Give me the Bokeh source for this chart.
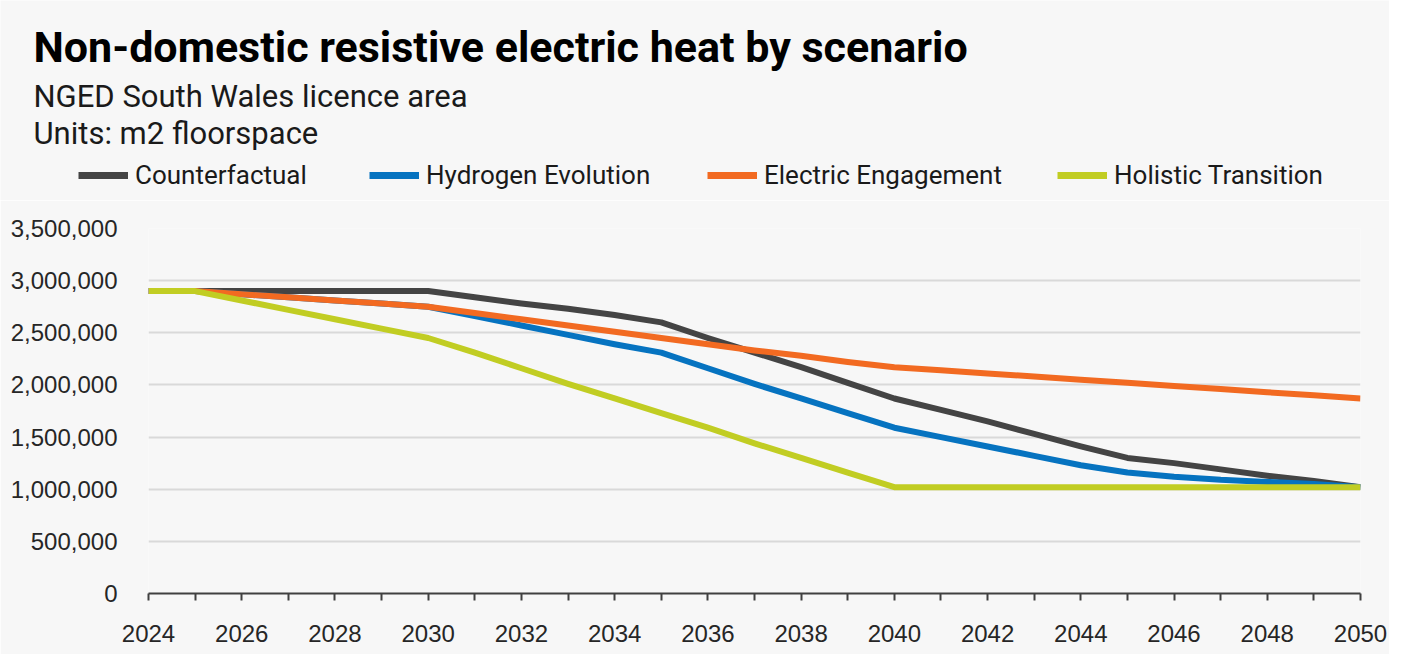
from bokeh.plotting import figure
from bokeh.models import Range1d, FixedTicker, NumeralTickFormatter, Legend, LegendItem
from bokeh.core.properties import value
from bokeh.embed import file_html
from bokeh.resources import INLINE

# ---- data ----
years = list(range(2024, 2051))
counterfactual = [2900000, 2900000, 2900000, 2900000, 2900000, 2900000, 2900000,
                  2840000, 2780000, 2730000, 2670000, 2600000,
                  2450000, 2310000, 2170000, 2020000, 1870000,
                  1760000, 1650000, 1530000, 1410000, 1300000,
                  1250000, 1190000, 1130000, 1080000, 1020000]
hydrogen = [2900000, 2900000, 2870000, 2840000, 2810000, 2780000, 2750000,
            2660000, 2570000, 2480000, 2390000, 2310000,
            2160000, 2010000, 1870000, 1730000, 1590000,
            1500000, 1410000, 1320000, 1230000, 1160000,
            1120000, 1090000, 1070000, 1050000, 1020000]
electric = [2900000, 2900000, 2870000, 2840000, 2810000, 2780000, 2750000,
            2690000, 2630000, 2570000, 2510000, 2450000,
            2390000, 2330000, 2280000, 2220000, 2170000,
            2140000, 2110000, 2080000, 2050000, 2020000,
            1990000, 1960000, 1930000, 1900000, 1870000]
holistic = [2900000, 2900000, 2810000, 2720000, 2630000, 2540000, 2450000,
            2310000, 2160000, 2010000, 1870000, 1730000,
            1590000, 1440000, 1300000, 1160000, 1020000,
            1020000, 1020000, 1020000, 1020000, 1020000,
            1020000, 1020000, 1020000, 1020000, 1020000]
series = [counterfactual, hydrogen, electric, holistic]
series_names = ["Counterfactual", "Hydrogen Evolution", "Electric Engagement", "Holistic Transition"]
series_colors = ["#444444", "#0673c0", "#f26a21", "#c1cd23"]
y_ticks = [0, 500000, 1000000, 1500000, 2000000, 2500000, 3000000, 3500000]
x_label_years = list(range(2024, 2051, 2))
x_minor_years = list(range(2025, 2050, 2))

title_text = "Non-domestic resistive electric heat by scenario"
subtitle1 = "NGED South Wales licence area"
subtitle2 = "Units: m2 floorspace"

BG = "#f7f7f7"
W = 1389
HEAD_H = 200
MAIN_H = 454

# ---- header: titles + legend (pixel coordinates) ----
h = figure(width=W, height=HEAD_H, output_backend="svg", toolbar_location=None,
           x_range=Range1d(0, W), y_range=Range1d(HEAD_H, 0),
           x_axis_location=None, y_axis_location=None,
           min_border=0, min_border_left=0, min_border_right=0,
           min_border_top=0, min_border_bottom=0)
h.grid.visible = False
h.background_fill_color = BG
h.border_fill_color = BG
h.outline_line_color = None

h.text(x=[33], y=[46], text=[title_text], text_font=value("Roboto"),
       text_font_style="bold", text_font_size="43px", text_color="#000000",
       text_baseline="alphabetic")
h.text(x=[33], y=[96], text=[subtitle1], text_font=value("Roboto"),
       text_font_size="31px", text_color="#1a1a1a", text_baseline="alphabetic")
h.text(x=[33], y=[133], text=[subtitle2], text_font=value("Roboto"),
       text_font_size="31px", text_color="#1a1a1a", text_baseline="alphabetic")

# legend swatches take their style from series renderers (the series lie outside this header's view)
leg_x = [78, 369, 707, 1057]
for data, name, color, lx in zip(series, series_names, series_colors, leg_x):
    r = h.line(years, data, line_color=color, line_width=7)
    leg = Legend(items=[LegendItem(label=name, renderers=[r])], location=(lx, 10),
                 orientation="horizontal", glyph_width=50, glyph_height=28, label_height=28,
                 label_standoff=7, padding=0, margin=0, border_line_alpha=0,
                 background_fill_alpha=0, label_text_font="Roboto",
                 label_text_font_size="26px", label_text_color="#1a1a1a")
    h.add_layout(leg)

# ---- main chart ----
p = figure(width=W, height=MAIN_H, output_backend="svg", toolbar_location=None,
           x_range=Range1d(2024, 2050), y_range=Range1d(0, 3500000),
           min_border_left=148, min_border_right=29, min_border_top=28, min_border_bottom=61)
p.background_fill_color = BG
p.border_fill_color = BG
p.outline_line_color = None

for data, color in zip(series, series_colors):
    p.line(years, data, line_color=color, line_width=6, line_join="round")

p.xaxis.ticker = FixedTicker(ticks=x_label_years, minor_ticks=x_minor_years)
p.xaxis.axis_line_color = "#404040"
p.xaxis.axis_line_width = 2
p.xaxis.major_tick_line_color = "#404040"
p.xaxis.major_tick_line_width = 2
p.xaxis.minor_tick_line_color = "#404040"
p.xaxis.minor_tick_line_width = 2
p.xaxis.major_tick_in = 0
p.xaxis.major_tick_out = 7
p.xaxis.minor_tick_in = 0
p.xaxis.minor_tick_out = 7
p.xaxis.major_label_standoff = 24
p.xaxis.major_label_text_font = "Liberation Sans"
p.xaxis.major_label_text_font_size = "24px"
p.xaxis.major_label_text_color = "#262626"

p.yaxis.ticker = FixedTicker(ticks=y_ticks)
p.yaxis.formatter = NumeralTickFormatter(format="0,0")
p.yaxis.axis_line_color = None
p.yaxis.major_tick_line_color = None
p.yaxis.minor_tick_line_color = None
p.yaxis.major_label_standoff = 25
p.yaxis.major_label_text_font = "Liberation Sans"
p.yaxis.major_label_text_font_size = "24px"
p.yaxis.major_label_text_color = "#262626"

p.xgrid.grid_line_color = None
p.ygrid.grid_line_color = "#d9d9d9"
p.ygrid.grid_line_width = 2

open("out.html", "w").write(file_html([h, p], INLINE))
